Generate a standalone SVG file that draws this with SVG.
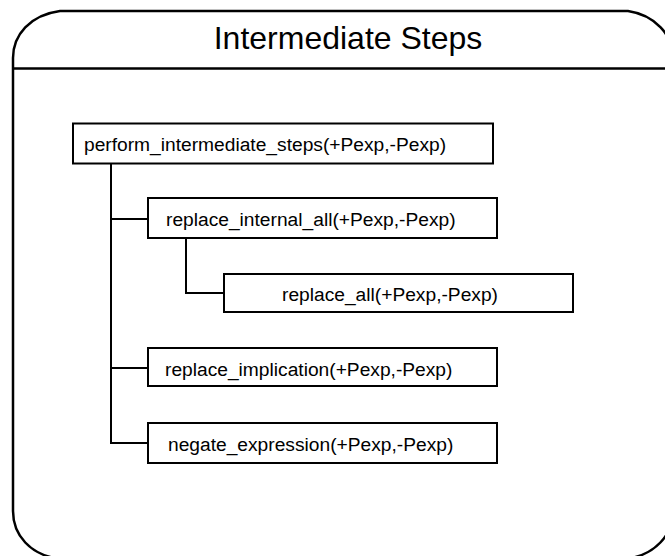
<svg xmlns="http://www.w3.org/2000/svg" width="665" height="556" viewBox="0 0 665 556">
  <style>
    .frame { fill: none; stroke: #000; stroke-width: 2.5; }
    .box { fill: #fff; stroke: #000; stroke-width: 2; }
    .wire { fill: none; stroke: #000; stroke-width: 2; }
    .title { font-family: "Liberation Sans", Arial, sans-serif; font-size: 32px; fill: #000; }
    .label { font-family: "Liberation Sans", Arial, sans-serif; font-size: 19.2px; fill: #000; }
  </style>
  <rect width="665" height="556" fill="#fff"/>

  <!-- package frame with rounded corners -->
  <g id="frame">
    <path class="frame" d="M 60,11 L 628,11 C 655,15 673,35 673,58 L 673,511 C 673,535 655,555 626,559 L 60,559 C 30,555 13,535 13,511 L 13,58 C 13,35 30,15 60,11 Z"/>
    <line class="frame" x1="13" y1="68.5" x2="673" y2="68.5"/>
    <text class="title" x="348" y="49" text-anchor="middle">Intermediate Steps</text>
  </g>

  <!-- tree connectors -->
  <g id="connectors">
    <polyline class="wire" points="111,164 111,443 148,443"/>
    <line class="wire" x1="111" y1="219" x2="148" y2="219"/>
    <line class="wire" x1="111" y1="368" x2="148" y2="368"/>
    <polyline class="wire" points="186,238 186,293 224,293"/>
  </g>

  <g id="perform_intermediate_steps">
    <rect class="box" x="73" y="123.5" width="420" height="40"/>
    <text class="label" x="84" y="151">perform_intermediate_steps(+Pexp,-Pexp)</text>
  </g>

  <g id="replace_internal_all">
    <rect class="box" x="148" y="198" width="349" height="40"/>
    <text class="label" x="166" y="226">replace_internal_all(+Pexp,-Pexp)</text>
  </g>

  <g id="replace_all">
    <rect class="box" x="224" y="274" width="349" height="38"/>
    <text class="label" x="282" y="301">replace_all(+Pexp,-Pexp)</text>
  </g>

  <g id="replace_implication">
    <rect class="box" x="148" y="348" width="349" height="38"/>
    <text class="label" x="165" y="375.5">replace_implication(+Pexp,-Pexp)</text>
  </g>

  <g id="negate_expression">
    <rect class="box" x="148" y="423" width="349" height="40"/>
    <text class="label" x="168" y="451">negate_expression(+Pexp,-Pexp)</text>
  </g>
</svg>
